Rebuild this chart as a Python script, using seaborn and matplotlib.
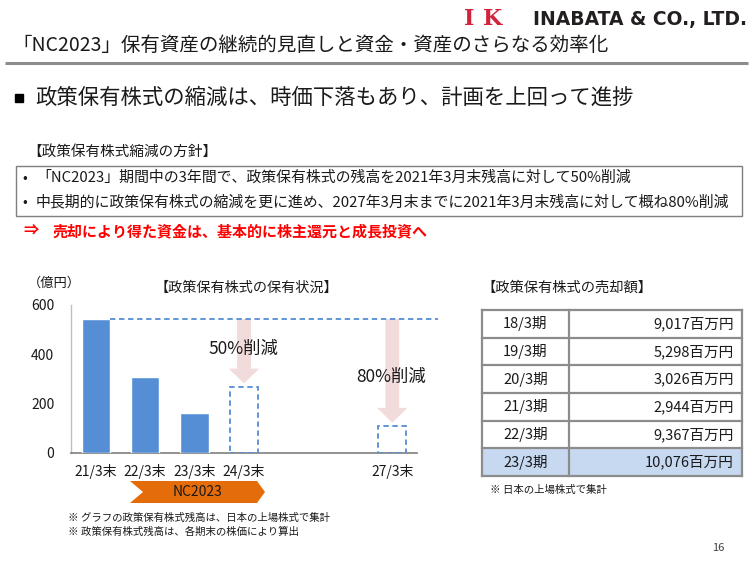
import matplotlib
matplotlib.use("Agg")
import matplotlib.pyplot as plt
import seaborn as sns
import pandas as pd
from matplotlib.patches import Rectangle, Polygon, FancyArrow

# ---------------- data ----------------
periods = ["21/3末", "22/3末", "23/3末", "24/3末", "25/3末", "26/3末", "27/3末"]
tick_labels = ["21/3末", "22/3末", "23/3末", "24/3末", "", "", "27/3末"]
actual_periods = ["21/3末", "22/3末", "23/3末"]
actual_values = [543, 308, 162]          # 億円
plan_periods = ["24/3末", "27/3末"]
plan_values = [268, 109]                 # target balances (億円)
plan_labels = ["50%削減", "80%削減"]
yticks = [0, 200, 400, 600]

table_periods = ["18/3期", "19/3期", "20/3期", "21/3期", "22/3期", "23/3期"]
table_values = ["9,017百万円", "5,298百万円", "3,026百万円", "2,944百万円", "9,367百万円", "10,076百万円"]

title = "「NC2023」保有資産の継続的見直しと資金・資産のさらなる効率化"
heading = "政策保有株式の縮減は、時価下落もあり、計画を上回って進捗"
policy_title = "【政策保有株式縮減の方針】"
policy_lines = ["「NC2023」期間中の3年間で、政策保有株式の残高を2021年3月末残高に対して50%削減",
                "中長期的に政策保有株式の縮減を更に進め、2027年3月末までに2021年3月末残高に対して概ね80%削減"]
conclusion = "売却により得た資金は、基本的に株主還元と成長投資へ"
chart_title = "【政策保有株式の保有状況】"
table_title = "【政策保有株式の売却額】"
chart_notes = ["※ グラフの政策保有株式残高は、日本の上場株式で集計",
               "※ 政策保有株式残高は、各期末の株価により算出"]
table_note = "※ 日本の上場株式で集計"

# ---------------- style ----------------
sns.set_theme(style="white")
plt.rcParams['font.family'] = ['Noto Sans CJK JP', 'DejaVu Sans']

BLUE = "#558ED5"
PINK = "#F2DCDB"
ORANGE = "#E46C0A"
TXT = "#1a1a1a"

W, H = 753, 564
fig = plt.figure(figsize=(W / 100, H / 100), dpi=100)
fig.patch.set_facecolor("white")

ov = fig.add_axes([0, 0, 1, 1])
ov.set_xlim(0, W)
ov.set_ylim(H, 0)
ov.axis("off")

# ---------------- header ----------------
ov.text(464, 19, "I", color="#D2233C", fontsize=16, fontweight="bold",
        family=["DejaVu Serif"], va="center", ha="left")
ov.text(483, 19, "K", color="#D2233C", fontsize=16, fontweight="bold",
        family=["DejaVu Serif"], va="center", ha="left")
ov.text(747, 19, "INABATA & CO., LTD.", color="#231F20", fontsize=13.5, fontweight="bold",
        family=["DejaVu Sans"], va="center", ha="right")
ov.text(12, 45, title, fontsize=14, color=TXT, va="center", ha="left")
ov.plot([5, 748], [63, 63], color="#8C8C8C", lw=2.2, solid_capstyle="butt")
ov.add_patch(Rectangle((15, 94), 8.3, 8.3, color="black"))
ov.text(35, 98, heading, fontsize=15.4, color=TXT, va="center", ha="left")

# ---------------- policy box ----------------
ov.text(27, 152, policy_title, fontsize=10.5, color=TXT, va="center", ha="left")
ov.add_patch(Rectangle((16, 166), 726, 50, fill=False, edgecolor="#7F7F7F", lw=1.0))
for i, line in enumerate(policy_lines):
    y = 178 + i * 24
    ov.text(22, y, "•", fontsize=10, color=TXT, va="center", ha="left")
    ov.text(36, y, line, fontsize=10.75, color=TXT, va="center", ha="left")
ov.text(23, 231, "⇒", fontsize=11, color="#FF0000", va="center", ha="left",
        fontweight="bold")
ov.text(53, 231, conclusion, fontsize=10.8, color="#FF0000", va="center", ha="left",
        fontweight="bold")

# ---------------- bar chart ----------------
ax = fig.add_axes([71 / W, 1 - 453 / H, 346 / W, 148 / H])
df_a = pd.DataFrame({"period": actual_periods, "value": actual_values})
df_p = pd.DataFrame({"period": plan_periods, "value": plan_values})

sns.barplot(data=df_a, x="period", y="value", order=periods, color=BLUE,
            saturation=1, width=0.57, ax=ax, zorder=3)
n_before = len(ax.patches)
sns.barplot(data=df_p, x="period", y="value", order=periods, color=BLUE,
            saturation=1, width=0.57, ax=ax, fill=False, linewidth=1.3, zorder=3)
for p in ax.patches[n_before:]:
    p.set_linestyle((0, (3, 2)))
    p.set_edgecolor(BLUE)
    p.set_facecolor("none")

ax.set_xlim(-0.5, len(periods) - 0.5)
ax.set_ylim(0, 600)
ax.set_yticks(yticks)
ax.set_xticks(range(len(periods)))
ax.set_xticklabels(tick_labels)
ax.set_xlabel("")
ax.set_ylabel("")
ax.tick_params(axis="both", length=0, labelsize=10, colors=TXT)
ax.tick_params(axis="y", pad=12)
ax.tick_params(axis="x", pad=8)
for s in ["top", "right"]:
    ax.spines[s].set_visible(False)
ax.spines["left"].set_color("#BFBFBF")
ax.spines["left"].set_linewidth(1.0)
ax.spines["bottom"].set_color("#7F7F7F")
ax.spines["bottom"].set_linewidth(1.2)
ax.set_facecolor("none")

# baseline (21/3末 balance) dashed reference line
base = actual_values[0]
ax.plot([0 + 0.285, 6.93], [base, base], color=BLUE, lw=1.3,
        linestyle=(0, (3, 2)), clip_on=False, zorder=4)

# reduction arrows + labels
label_y = [422, 308]
for per, val, lab, ly in zip(plan_periods, plan_values, plan_labels, label_y):
    xi = periods.index(per)
    tip = val + 14
    arr = FancyArrow(xi, base, 0, -(base - tip), width=0.28, head_width=0.62,
                     head_length=60, length_includes_head=True,
                     color=PINK, lw=0, zorder=2)
    ax.add_patch(arr)
    ax.text(xi - 0.02, ly, lab, fontsize=12.5, color=TXT, ha="center", va="center", zorder=5)

ov.text(28, 283, "（億円）", fontsize=9.5, color=TXT, va="center", ha="left")
ov.text(246, 288, chart_title, fontsize=10.2, color=TXT, va="center", ha="center")

# NC2023 chevron
ov.add_patch(Polygon([(130, 481), (257, 481), (265, 492), (257, 503), (130, 503), (143, 492)],
                     closed=True, color=ORANGE, lw=0))
ov.text(198, 492, "NC2023", fontsize=10, color=TXT, va="center", ha="center")

for i, note in enumerate(chart_notes):
    ov.text(68, 518 + i * 14, note, fontsize=7.5, color=TXT, va="center", ha="left")

# ---------------- table ----------------
ov.text(481, 288, table_title, fontsize=10.3, color=TXT, va="center", ha="left")
tx0, tx1, tx2 = 482, 569, 742
ty0 = 310
rh = (476 - 310) / len(table_periods)
for i, (per, val) in enumerate(zip(table_periods, table_values)):
    y = ty0 + i * rh
    if i == len(table_periods) - 1:
        ov.add_patch(Rectangle((tx0, y), tx2 - tx0, rh, color="#C6D9F1", lw=0, zorder=1))
    ov.text((tx0 + tx1) / 2, y + rh / 2, per, fontsize=10.5, color=TXT,
            ha="center", va="center", zorder=3)
    ov.text(tx2 - 8, y + rh / 2, val, fontsize=10.5, color=TXT,
            ha="right", va="center", zorder=3)
grid_c = "#8C8C8C"
for i in range(len(table_periods) + 1):
    y = ty0 + i * rh
    ov.plot([tx0, tx2], [y, y], color=grid_c, lw=1.6, zorder=2, solid_capstyle="projecting")
for x in (tx0, tx1, tx2):
    ov.plot([x, x], [ty0, ty0 + rh * len(table_periods)], color=grid_c, lw=1.6, zorder=2,
            solid_capstyle="projecting")
ov.text(490, 490, table_note, fontsize=7.5, color=TXT, va="center", ha="left")

ov.text(718, 548, "16", fontsize=8, color="#404040", va="center", ha="center")

fig.savefig("out.png", dpi=100, facecolor="white")
